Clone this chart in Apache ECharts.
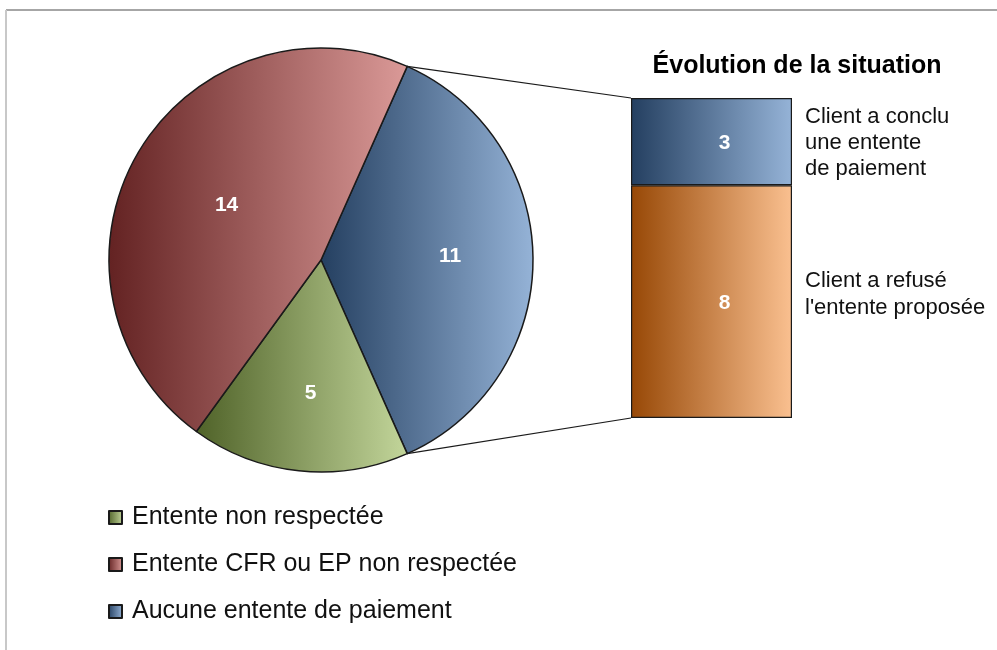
<!DOCTYPE html>
<html>
<head>
<meta charset="utf-8">
<script src="https://cdn.jsdelivr.net/npm/echarts@6/dist/echarts.min.js"></script>
<style>html,body{margin:0;padding:0;background:#fff}#c{width:997px;height:650px}</style>
</head>
<body>
<div id="c"></div>
<script>
// ---- data ----
var pieNames = ['Aucune entente de paiement', 'Entente non respectée', 'Entente CFR ou EP non respectée'];
var pieValues = [11, 5, 14];
var legendOrder = ['Entente non respectée', 'Entente CFR ou EP non respectée', 'Aucune entente de paiement'];
var barNames = ['Client a refusé\nl\'entente proposée', 'Client a conclu\nune entente\nde paiement'];
var barValues = [8, 3];
var barTitle = 'Évolution de la situation';

var FONT = '"Liberation Sans", Arial, sans-serif';
function grad(c0, c1) {
  return { type: 'linear', x: 0, y: 0, x2: 1, y2: 0, colorStops: [{ offset: 0, color: c0 }, { offset: 1, color: c1 }] };
}
var pieColors = [grad('#243f60', '#95b3d7'), grad('#4f6228', '#c3d69b'), grad('#632222', '#db9a98')];
var pieLabelOffsets = [[20, -4], [1, 25], [0, 0]];
var barColors = [grad('#974806', '#fac090'), grad('#243f60', '#95b3d7')];

var cx = 321, cy = 260, R = 212, startAngle = 66;
var gridL = 631, gridT = 98, gridW = 161, gridH = 320;

var total = pieValues.reduce(function (a, b) { return a + b; }, 0);
var a0 = startAngle * Math.PI / 180;
var a1 = (startAngle - pieValues[0] / total * 360) * Math.PI / 180;
var p0 = [cx + R * Math.cos(a0), cy - R * Math.sin(a0)];
var p1 = [cx + R * Math.cos(a1), cy - R * Math.sin(a1)];

var pieData = pieNames.map(function (n, i) {
  return { name: n, value: pieValues[i], itemStyle: { color: pieColors[i] }, label: { offset: pieLabelOffsets[i] } };
});

var barSeries = barNames.map(function (n, i) {
  return {
    type: 'bar', name: n, stack: 's', barWidth: '100%',
    data: [barValues[i]],
    itemStyle: { color: barColors[i], borderColor: '#1a1a1a', borderWidth: 1.2 },
    label: { show: true, position: 'inside', offset: [13, 2], color: '#fff', fontWeight: 'bold', fontSize: 21, fontFamily: FONT },
    emphasis: { disabled: true }, silent: true
  };
});

var chart = echarts.init(document.getElementById('c'), null, { renderer: 'canvas' });
chart.setOption({
  animation: false,
  backgroundColor: '#fff',
  legend: {
    data: legendOrder, orient: 'vertical', left: 103, top: 500,
    itemWidth: 13, itemHeight: 13, itemGap: 22, icon: 'rect',
    textStyle: { fontSize: 25, color: '#111', fontFamily: FONT, lineHeight: 24, padding: [0, 0, 0, 5] },
    selectedMode: false
  },
  grid: { left: gridL, top: gridT, width: gridW, height: gridH },
  xAxis: { type: 'category', data: [barTitle], show: false },
  yAxis: { type: 'value', min: 0, max: barValues.reduce(function (a, b) { return a + b; }, 0), show: false },
  series: [{
    type: 'pie', center: [cx, cy], radius: R, startAngle: startAngle, clockwise: true,
    data: pieData,
    itemStyle: { borderColor: '#1a1a1a', borderWidth: 1.5 },
    label: { show: true, position: 'inside', formatter: '{c}', color: '#fff', fontWeight: 'bold', fontSize: 21, fontFamily: FONT },
    labelLine: { show: false },
    emphasis: { disabled: true }, silent: true
  }].concat(barSeries),
  graphic: [
    { type: 'line', shape: { x1: 6, y1: 10, x2: 997, y2: 10 }, style: { stroke: '#a6a6a6', lineWidth: 2 } },
    { type: 'line', shape: { x1: 6, y1: 10, x2: 6, y2: 650 }, style: { stroke: '#c8c8c8', lineWidth: 2 } },
    { type: 'line', shape: { x1: p0[0], y1: p0[1], x2: gridL, y2: gridT }, style: { stroke: '#1a1a1a', lineWidth: 1.2 } },
    { type: 'line', shape: { x1: p1[0], y1: p1[1], x2: gridL, y2: gridT + gridH }, style: { stroke: '#1a1a1a', lineWidth: 1.2 } },
    { type: 'text', x: 797, y: 66, style: { text: barTitle, font: 'bold 25px ' + FONT, fill: '#000', align: 'center', verticalAlign: 'middle' } },
    { type: 'text', x: 805, y: 104, style: { text: barNames[1], font: '22px ' + FONT, lineHeight: 26, fill: '#111', align: 'left', verticalAlign: 'top' } },
    { type: 'text', x: 805, y: 267, style: { text: barNames[0], font: '22px ' + FONT, lineHeight: 27, fill: '#111', align: 'left', verticalAlign: 'top' } }
  ]
});
</script>
</body>
</html>
